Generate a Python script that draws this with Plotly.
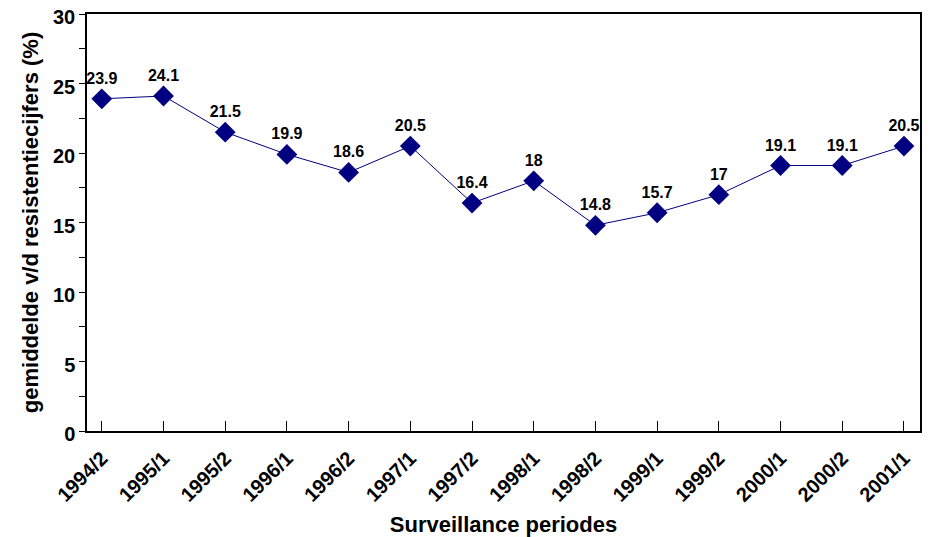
import plotly.graph_objects as go

periods = ["1994/2", "1995/1", "1995/2", "1996/1", "1996/2", "1997/1", "1997/2",
           "1998/1", "1998/2", "1999/1", "1999/2", "2000/1", "2000/2", "2001/1"]
values = [23.9, 24.1, 21.5, 19.9, 18.6, 20.5, 16.4, 18, 14.8, 15.7, 17, 19.1, 19.1, 20.5]
labels = ["23.9", "24.1", "21.5", "19.9", "18.6", "20.5", "16.4", "18", "14.8",
          "15.7", "17", "19.1", "19.1", "20.5"]

FONT = "Liberation Sans, Arial, sans-serif"

fig = go.Figure()
fig.add_trace(go.Scatter(
    x=periods, y=values, mode="lines+markers+text",
    text=labels, textposition="top center",
    textfont=dict(family=FONT, size=16, color="black", weight="bold"),
    line=dict(color="#000080", width=1),
    marker=dict(symbol="diamond", size=16, color="#000080"),
    cliponaxis=False,
))

# page body has an 8px default margin, so the figure is sized to fit the window
fig.update_layout(
    width=924, height=529,
    margin=dict(l=79, r=12, t=6, b=106),
    paper_bgcolor="white", plot_bgcolor="white",
    showlegend=False,
    font=dict(family=FONT, color="black"),
)
fig.update_xaxes(
    type="category", range=[-0.24, 13.26], automargin=False,
    showline=True, linecolor="black", linewidth=1.5, mirror=True,
    ticks="inside", ticklen=10, tickcolor="black", tickwidth=1,
    tickangle=-45, showgrid=False, zeroline=False, ticklabelstandoff=6,
    tickfont=dict(family=FONT, size=20, color="black", weight="bold"),
    title=dict(text="Surveillance periodes", standoff=14,
               font=dict(family=FONT, size=22, color="black", weight="bold")),
)
fig.update_yaxes(
    range=[0, 30], dtick=5, tick0=0, automargin=False, ticklabeloverflow="allow",
    ticklabelshift=3,
    showline=True, linecolor="black", linewidth=1.5, mirror=True,
    ticks="outside", ticklen=6, tickcolor="black", tickwidth=1,
    minor=dict(dtick=2.5, ticks="outside", ticklen=6, tickcolor="black", tickwidth=1, showgrid=False),
    showgrid=False, zeroline=False,
    tickfont=dict(family=FONT, size=20, color="black", weight="bold"),
    title=dict(text="gemiddelde v/d resistentiecijfers (%)", standoff=8,
               font=dict(family=FONT, size=22, color="black", weight="bold")),
)

fig.write_html("out.html")
